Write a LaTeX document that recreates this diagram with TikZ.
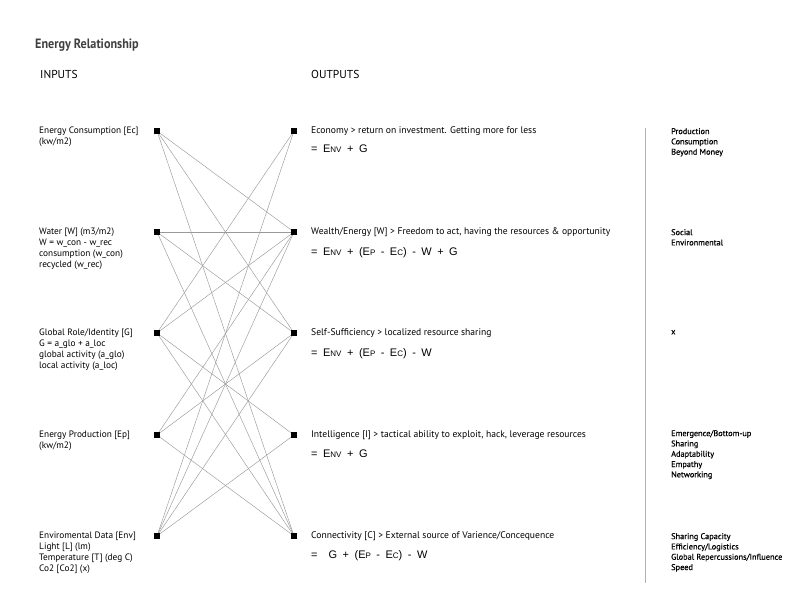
\documentclass[tikz,border=0pt]{standalone}
\usepackage{fontspec}
\setmainfont{PT Sans}
\newfontfamily\titlefont[FakeStretch=0.9]{PT Sans Bold}
\newfontfamily\formfont{Liberation Sans}
\newfontfamily\notefont[FakeBold=0.6]{PT Sans}
\usetikzlibrary{backgrounds}
% small-caps style letters used in the formulas
\newcommand{\sml}[1]{{\fontsize{8}{9}\selectfont #1}}
\newcommand{\gap}{\hspace{5.5pt}}
\begin{document}
\begin{tikzpicture}[x=1pt,y=-1pt,
  port/.style={fill=black,draw=none,minimum size=6pt,inner sep=0pt},
  link/.style={draw=black!40,line width=0.45pt},
  lbl/.style={anchor=north west,inner sep=0pt,align=left,
    font=\fontsize{9.3}{11}\selectfont},
  outlbl/.style={anchor=north west,inner sep=0pt,align=left,
    font=\fontsize{9.6}{11}\selectfont},
  formula/.style={anchor=base west,inner sep=0pt,
    font=\formfont\fontsize{11}{12}\selectfont},
  note/.style={anchor=north west,inner sep=0pt,align=left,
    font=\notefont\fontsize{8.3}{10.3}\selectfont},
  heading/.style={anchor=west,inner sep=0pt,
    font=\fontsize{11.5}{13}\selectfont}]
\useasboundingbox (0,0) rectangle (792,612);

% title and column headings
\node[anchor=west,inner sep=0pt,text=black!75,font=\titlefont\fontsize{13.5}{15}\selectfont]
  (title) at (35,45) {Energy Relationship};
\node[heading] (hin) at (40,74) {INPUTS};
\node[heading] (hout) at (311,74) {OUTPUTS};

% input and output ports
\foreach \i/\y in {1/131,2/232,3/333,4/435,5/536}{
  \node[port] (in\i) at (157,\y) {};
  \node[port] (out\i) at (294,\y) {};
}

% input labels
\node[lbl] (tin1) at (39,126.3) {Energy Consumption [Ec]\\(kw/m2)};
\node[lbl] (tin2) at (39,227.3) {Water [W] (m3/m2)\\W = w\_con - w\_rec\\consumption (w\_con)\\recycled (w\_rec)};
\node[lbl] (tin3) at (39,328.3) {Global Role/Identity [G]\\G = a\_glo + a\_loc\\global activity (a\_glo)\\local activity (a\_loc)};
\node[lbl] (tin4) at (39,430.3) {Energy Production [Ep]\\(kw/m2)};
\node[lbl] (tin5) at (39,531.3) {Enviromental Data [Env]\\Light [L] (lm)\\Temperature [T] (deg C)\\Co2 [Co2] (x)};

% output labels
\node[outlbl] (tout1) at (311,126.5) {Economy > return on investment. Getting more for less};
\node[outlbl] (tout2) at (311,227.5) {Wealth/Energy [W] > Freedom to act, having the resources \& opportunity};
\node[outlbl] (tout3) at (311,328.5) {Self-Sufficiency > localized resource sharing};
\node[outlbl] (tout4) at (311,430.5) {Intelligence [I] > tactical ability to exploit, hack, leverage resources};
\node[outlbl] (tout5) at (311,531.5) {Connectivity [C] > External source of Varience/Concequence};

% formulas
\node[formula] (f1) at (311,153) {=\gap E\sml{NV}\gap +\gap G};
\node[formula] (f2) at (311,255) {=\gap E\sml{NV}\gap +\gap (E\sml{P}\gap -\gap E\sml{C})\gap -\gap W\gap +\gap G};
\node[formula] (f3) at (311,356) {=\gap E\sml{NV}\gap +\gap (E\sml{P}\gap -\gap E\sml{C})\gap -\gap W};
\node[formula] (f4) at (311,457) {=\gap E\sml{NV}\gap +\gap G};
\node[formula] (f5) at (311,558) {=\gap\gap G\gap +\gap (E\sml{P}\gap -\gap E\sml{C})\gap -\gap W};

% separator and notes
\coordinate (sepT) at (645,128);
\coordinate (sepB) at (645,583);
\draw[black!30,line width=0.9pt] (sepT) -- (sepB);
\node[note] (n1) at (671,128) {Production\\Consumption\\Beyond Money};
\node[note] (n2) at (671,229) {Social\\Environmental};
\node[note] (n3) at (671,330) {x};
\node[note] (n4) at (671,430) {Emergence/Bottom-up\\Sharing\\Adaptability\\Empathy\\Networking};
\node[note] (n5) at (671,533) {Sharing Capacity\\Efficiency/Logistics\\Global Repercussions/Influence\\Speed};

% connections between inputs and outputs
\begin{scope}[on background layer]
  \foreach \a/\b in {1/2,1/3,1/5, 2/2,2/3,2/5, 3/1,3/2,3/4,3/5, 4/2,4/3,4/5, 5/1,5/2,5/3,5/4}{
    \draw[link] (in\a.center) -- (out\b.center);
  }
\end{scope}
\end{tikzpicture}
\end{document}
